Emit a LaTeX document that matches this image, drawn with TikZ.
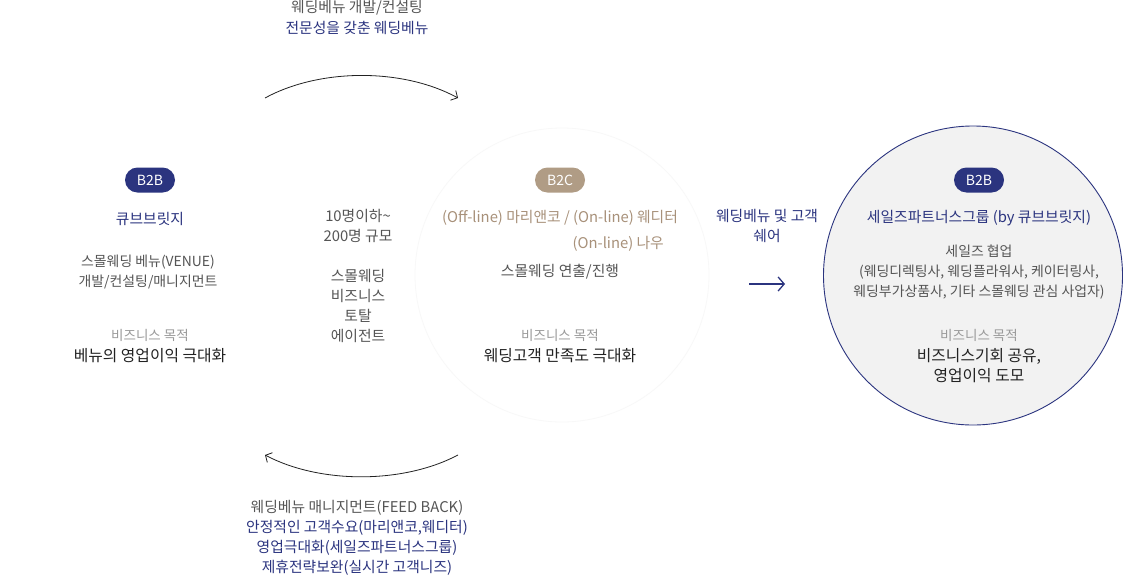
\documentclass[tikz,border=0pt]{standalone}
\usepackage{fontspec}
\setmainfont{Noto Sans CJK KR}
\usetikzlibrary{arrows.meta}
\definecolor{navy}{HTML}{2B347F}
\definecolor{tan}{HTML}{B09C85}
\definecolor{tantext}{HTML}{A8917A}
\definecolor{midgray}{HTML}{555555}
\definecolor{lightgray}{HTML}{9A9A9A}
\definecolor{darktext}{HTML}{222222}
\definecolor{circfill}{HTML}{F2F2F2}
\definecolor{faint}{HTML}{F8F8F8}
\begin{document}
\begin{tikzpicture}[x=1pt,y=-1pt,
  txt/.style={inner sep=0pt,align=center,font=\fontsize{14.8}{20}\selectfont},
  graytxt/.style={txt,text=midgray},
  smallgray/.style={txt,text=midgray,font=\fontsize{13.9}{20}\selectfont},
  navytxt/.style={txt,text=navy},
  tantxt/.style={txt,text=tantext},
  goaltxt/.style={txt,text=lightgray,font=\fontsize{13.5}{18}\selectfont},
  bigtxt/.style={txt,text=darktext,font=\fontsize{15.8}{20}\selectfont},
  pill/.style={rounded corners=12.5pt,minimum width=50pt,minimum height=25pt,inner sep=0pt,text=white,font=\fontsize{14}{16}\selectfont},
  arcline/.style={draw=darktext,line width=0.8pt,-{Straight Barb[length=5pt,width=11pt]}},
  shareline/.style={draw=navy,line width=1.3pt,-{Straight Barb[length=6pt,width=14pt]}}
]
\useasboundingbox (0,0) rectangle (1123,576);
\fill[white] (0,0) rectangle (1123,576);

% faint circle around B2C
\draw[faint,line width=0.8pt] (562,275) circle[radius=147];
% right circle
\draw[navy,fill=circfill,line width=0.9pt] (973,275.5) circle[radius=149.5];

% top arc
\coordinate (ta1) at (265,98);
\coordinate (ta2) at (458,98);
\draw[arcline] (ta1) .. controls (320,68) and (403,68) .. (ta2);
\node[graytxt] (top1) at (357,8) {웨딩베뉴 개발/컨설팅};
\node[navytxt] (top2) at (357,28) {전문성을 갖춘 웨딩베뉴};

% bottom arc
\coordinate (ba1) at (458,455);
\coordinate (ba2) at (265,455);
\draw[arcline] (ba1) .. controls (403,484) and (320,484) .. (ba2);
\node[graytxt] (bot1) at (357,508) {웨딩베뉴 매니지먼트(FEED BACK)};
\node[navytxt] (bot2) at (357,528) {안정적인 고객수요(마리앤코,웨디터)};
\node[navytxt] (bot3) at (357,548) {영업극대화(세일즈파트너스그룹)};
\node[navytxt] (bot4) at (357,568) {제휴전략보완(실시간 고객니즈)};

% left column
\node[pill,fill=navy] (b2bL) at (150,180) {B2B};
\node[navytxt] (cube) at (150,219) {큐브브릿지};
\node[smallgray] (venue) at (148,272) {스몰웨딩 베뉴(VENUE)\\개발/컨설팅/매니지먼트};
\node[goaltxt] (goalL) at (150,335) {비즈니스 목적};
\node[bigtxt] (resL) at (150,356) {베뉴의 영업이익 극대화};

% middle column
\node[graytxt] (scale) at (358,226) {10명이하\textasciitilde\\200명 규모};
\node[graytxt] (agent) at (358,306) {스몰웨딩\\비즈니스\\토탈\\에이전트};

% B2C column
\node[pill,fill=tan] (b2c) at (560,180) {B2C};
\node[tantxt] (brands) at (560,218) {(Off-line) 마리앤코 / (On-line) 웨디터};
\node[tantxt,anchor=east] (now) at (664,244) {(On-line) 나우};
\node[graytxt] (direct) at (560,272) {스몰웨딩 연출/진행};
\node[goaltxt] (goalM) at (560,335) {비즈니스 목적};
\node[bigtxt] (resM) at (560,356) {웨딩고객 만족도 극대화};

% share
\node[navytxt] (share) at (767,226) {웨딩베뉴 및 고객\\쉐어};
\coordinate (sh1) at (749,284);
\coordinate (sh2) at (785,284);
\draw[shareline] (sh1) -- (sh2);

% right circle content
\node[pill,fill=navy] (b2bR) at (979,180) {B2B};
\node[navytxt] (sales) at (979,218) {세일즈파트너스그룹 (by 큐브브릿지)};
\node[smallgray] (collab) at (979,272) {세일즈 협업\\(웨딩디렉팅사, 웨딩플라워사, 케이터링사,\\웨딩부가상품사, 기타 스몰웨딩 관심 사업자)};
\node[goaltxt] (goalR) at (979,335) {비즈니스 목적};
\node[bigtxt] (resR) at (979,366) {비즈니스기회 공유,\\영업이익 도모};
\end{tikzpicture}
\end{document}
